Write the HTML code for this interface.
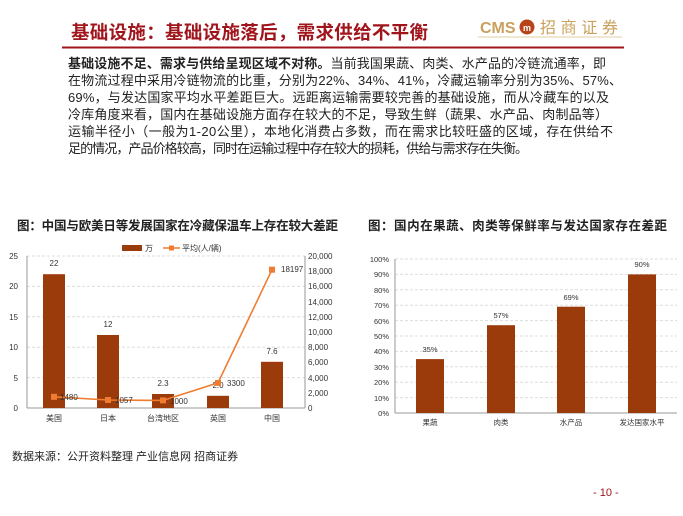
<!DOCTYPE html>
<html><head><meta charset="utf-8"><style>
body{margin:0;background:#fff;}
svg{display:block;font-family:"Liberation Sans","Noto Sans CJK SC",sans-serif;}
</style></head><body>
<svg width="683" height="516" viewBox="0 0 683 516">
<rect width="683" height="516" fill="#fff"/>
<text x="71" y="39" font-size="18.5" font-weight="bold" fill="#a0151c" textLength="357">基础设施：基础设施落后，需求供给不平衡</text>
<line x1="62" y1="47.5" x2="624" y2="47.5" stroke="#a0151c" stroke-width="2"/>
<text x="480" y="33" font-size="16" font-weight="bold" fill="#c9a15c">CMS</text>
<circle cx="527" cy="27" r="7.5" fill="#b8451a"/>
<text x="527" y="31" font-size="9" font-weight="bold" fill="#fff" text-anchor="middle">m</text>
<text x="540" y="33" font-size="16" fill="#c9a15c" textLength="78">招商证券</text>
<line x1="478" y1="37" x2="622" y2="37" stroke="#e2cfa5" stroke-width="1"/>
<g font-size="13" fill="#222">
<text x="68" y="68" textLength="538"><tspan font-weight="bold">基础设施不足、需求与供给呈现区域不对称。</tspan>当前我国果蔬、肉类、水产品的冷链流通率，即</text>
<text x="68" y="85" textLength="554">在物流过程中采用冷链物流的比重，分别为22%、34%、41%，冷藏运输率分别为35%、57%、</text>
<text x="68" y="102" textLength="541">69%，与发达国家平均水平差距巨大。远距离运输需要较完善的基础设施，而从冷藏车的以及</text>
<text x="68" y="119" textLength="540">冷库角度来看，国内在基础设施方面存在较大的不足，导致生鲜（蔬果、水产品、肉制品等）</text>
<text x="68" y="136" textLength="545">运输半径小（一般为1-20公里），本地化消费占多数，而在需求比较旺盛的区域，存在供给不</text>
<text x="68" y="153" textLength="460">足的情况，产品价格较高，同时在运输过程中存在较大的损耗，供给与需求存在失衡。</text>
</g>
<text x="17" y="230" font-size="12.5" font-weight="bold" fill="#222" textLength="321">图：中国与欧美日等发展国家在冷藏保温车上存在较大差距</text>
<text x="368" y="230" font-size="12.5" font-weight="bold" fill="#222" textLength="299">图：国内在果蔬、肉类等保鲜率与发达国家存在差距</text>

<!-- left chart -->
<g font-size="8" fill="#333">
<g stroke="#ddd" stroke-dasharray="3,2">
<line x1="27" y1="256" x2="305" y2="256"/><line x1="27" y1="286.4" x2="305" y2="286.4"/><line x1="27" y1="316.8" x2="305" y2="316.8"/><line x1="27" y1="347.2" x2="305" y2="347.2"/><line x1="27" y1="377.6" x2="305" y2="377.6"/>
</g>
<line x1="27" y1="256" x2="27" y2="408" stroke="#999"/>
<line x1="27" y1="408" x2="305" y2="408" stroke="#999"/>
<line x1="305" y1="256" x2="305" y2="408" stroke="#999"/>
<g text-anchor="end">
<text x="18" y="259">25</text><text x="18" y="289">20</text><text x="18" y="320">15</text><text x="18" y="350">10</text><text x="18" y="381">5</text><text x="18" y="411">0</text>
</g>
<g>
<text x="308" y="259">20,000</text><text x="308" y="274">18,000</text><text x="308" y="289">16,000</text><text x="308" y="305">14,000</text><text x="308" y="320">12,000</text><text x="308" y="335">10,000</text><text x="308" y="350">8,000</text><text x="308" y="365">6,000</text><text x="308" y="381">4,000</text><text x="308" y="396">2,000</text><text x="308" y="411">0</text>
</g>
<g fill="#9b3a0a">
<rect x="43" y="274.2" width="22" height="133.8"/>
<rect x="97" y="335" width="22" height="73"/>
<rect x="152" y="394" width="22" height="14"/>
<rect x="207" y="395.8" width="22" height="12.2"/>
<rect x="261" y="361.8" width="22" height="46.2"/>
</g>
<g text-anchor="middle">
<text x="54" y="266">22</text><text x="108" y="327">12</text><text x="163" y="386">2.3</text><text x="218" y="388">2.0</text><text x="272" y="354">7.6</text>
<text x="54" y="421">美国</text><text x="108" y="421">日本</text><text x="163" y="421">台湾地区</text><text x="218" y="421">英国</text><text x="272" y="421">中国</text>
</g>
<polyline points="54,396.8 108,400 163,400.4 218,382.9 272,269.7" fill="none" stroke="#ee7d31" stroke-width="1.6"/>
<g fill="#ee7d31">
<rect x="51" y="393.8" width="6" height="6"/><rect x="105" y="397" width="6" height="6"/><rect x="160" y="397.4" width="6" height="6"/><rect x="215" y="379.9" width="6" height="6"/><rect x="269" y="266.7" width="6" height="6"/>
</g>
<text x="60" y="400">1480</text><text x="115" y="403">1057</text><text x="170" y="404">1000</text><text x="227" y="386">3300</text><text x="281" y="272">18197</text>
<rect x="122" y="245" width="20" height="6" fill="#9b3a0a"/><text x="145" y="251">万</text>
<line x1="163" y1="248" x2="180" y2="248" stroke="#ee7d31" stroke-width="1.5"/><rect x="169" y="245.5" width="5" height="5" fill="#ee7d31"/>
<text x="182" y="251">平均(人/辆)</text>
</g>

<!-- right chart -->
<g font-size="7.5" fill="#333">
<g stroke="#ddd" stroke-dasharray="3,2">
<line x1="395" y1="259" x2="677" y2="259"/><line x1="395" y1="274.4" x2="677" y2="274.4"/><line x1="395" y1="289.8" x2="677" y2="289.8"/><line x1="395" y1="305.2" x2="677" y2="305.2"/><line x1="395" y1="320.6" x2="677" y2="320.6"/><line x1="395" y1="336" x2="677" y2="336"/><line x1="395" y1="351.4" x2="677" y2="351.4"/><line x1="395" y1="366.8" x2="677" y2="366.8"/><line x1="395" y1="382.2" x2="677" y2="382.2"/><line x1="395" y1="397.6" x2="677" y2="397.6"/>
</g>
<line x1="395" y1="259" x2="395" y2="413" stroke="#999"/>
<line x1="395" y1="413" x2="677" y2="413" stroke="#999"/>
<g text-anchor="end">
<text x="389" y="262">100%</text><text x="389" y="277">90%</text><text x="389" y="293">80%</text><text x="389" y="308">70%</text><text x="389" y="324">60%</text><text x="389" y="339">50%</text><text x="389" y="354">40%</text><text x="389" y="370">30%</text><text x="389" y="385">20%</text><text x="389" y="401">10%</text><text x="389" y="416">0%</text>
</g>
<g fill="#9b3a0a">
<rect x="416" y="359.1" width="28" height="53.9"/>
<rect x="487" y="325.2" width="28" height="87.8"/>
<rect x="557" y="306.7" width="28" height="106.3"/>
<rect x="628" y="274.4" width="28" height="138.6"/>
</g>
<g text-anchor="middle">
<text x="430" y="352">35%</text><text x="501" y="318">57%</text><text x="571" y="300">69%</text><text x="642" y="267">90%</text>
<text x="430" y="425">果蔬</text><text x="501" y="425">肉类</text><text x="571" y="425">水产品</text><text x="642" y="425">发达国家水平</text>
</g>
</g>

<text x="12" y="460" font-size="11" fill="#222">数据来源：公开资料整理 产业信息网 招商证券</text>
<text x="593" y="496" font-size="11" fill="#a0151c">- 10 -</text>
</svg>
</body></html>
